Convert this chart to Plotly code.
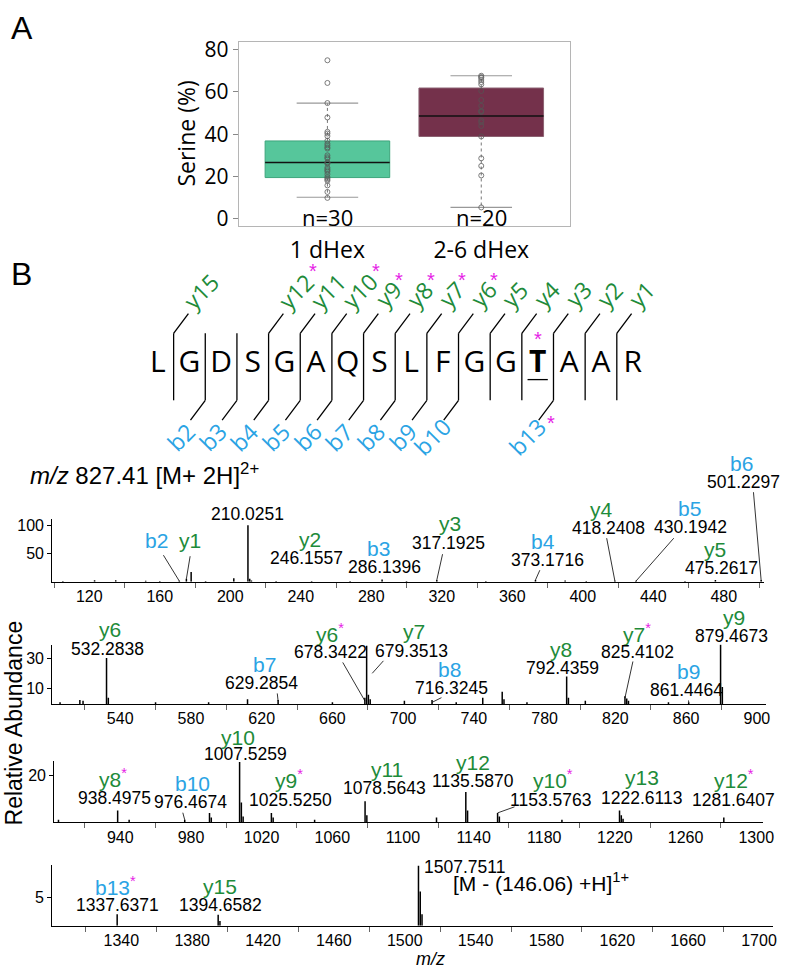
import plotly.graph_objects as go

W, H = 796, 978

# ---------------- Panel A data ----------------
groups = ["1 dHex", "2-6 dHex"]
group_n = ["n=30", "n=20"]
serine_1dhex = [74.9, 64.2, 54.7, 47.9, 41.1, 40.3, 39.1, 36.9, 35.5, 34.7,
                33.8, 33.2, 30.0, 29.1, 28.5, 26.7, 26.5, 26.0, 24.2, 23.5,
                22.9, 22.3, 21.1, 19.8, 19.2, 18.6, 18.0, 15.8, 12.7, 9.9]
serine_26dhex = [67.6, 67.0, 66.6, 65.6, 64.6, 63.5, 60.4, 56.1, 53.4, 51.0,
                 50.8, 50.5, 46.5, 45.6, 43.9, 38.9, 28.6, 25.0, 20.5, 5.4]
box_q1 = [19.5, 38.9]
box_median = [26.6, 48.6]
box_q3 = [36.8, 61.8]
box_lower = [10.2, 5.4]
box_upper = [54.7, 67.6]
serine_ticks = [0, 20, 40, 60, 80]

# ---------------- Panel B: peptide ----------------
peptide = list("LGDSGAQSLFGGTAAR")
glyco_residue = 12          # index of the modified T
b_ions = [2, 3, 4, 5, 6, 7, 8, 9, 10, 13]
y_ions = [15, 12, 11, 10, 9, 8, 7, 6, 5, 4, 3, 2, 1]
b_star = [13]
y_star = [12, 10, 9, 8, 7, 6]

# ---------------- Panel B: spectra ----------------
spec1_mz = [105, 123, 135, 152, 160, 171.1, 175.1, 177.8, 186, 202.0, 210.03, 211.03, 212,
            226, 246.16, 268, 286.14, 300, 317.19, 345, 373.17, 390, 402, 418.24, 430.19,
            458, 475.26, 501.23]
spec1_int = [1, 2.5, 2.5, 1.5, 1, 1.5, 5, 17, 1, 6, 100, 5, 2,
             1, 1, 1, 4, 1, 3, 1, 3, 2, 1, 1.5, 1.5,
             1, 3, 3]
spec2_mz = [506, 517.2, 519, 532.28, 533.29, 560, 590, 612, 629.29, 660, 678.34, 679.35,
            680.35, 681.36, 700.7, 716.32, 730, 745, 756, 757, 770, 792.44, 793.44, 803,
            825.41, 826.41, 827.4, 850, 861.45, 879.47, 880.47]
spec2_int = [1, 2.5, 2, 30, 4, 1, 1, 3, 2.5, 1, 4, 38,
             6, 3, 2, 2.5, 1, 4, 8, 3, 1, 18, 4, 2,
             5, 3.5, 2, 1, 1, 39, 11]
spec3_mz = [905, 938.50, 945, 976.47, 990.5, 991.5, 1007.53, 1008.53, 1009.53, 1025.53,
            1026.53, 1050, 1078.56, 1079.57, 1119, 1135.59, 1136.59, 1153.58, 1154.58,
            1190, 1222.61, 1223.61, 1224.61, 1281.64]
spec3_int = [1, 5, 1, 1, 4, 2, 26, 8.5, 2.5, 4,
             2, 1, 9, 3, 2, 13, 5, 4, 2.5,
             1, 5, 3, 1.5, 2]
spec4_mz = [1337.64, 1394.66, 1395.66, 1507.75, 1508.75, 1509.75]
spec4_int = [2, 1.9, 0.8, 10.5, 6, 2]

spec_xticklabels = [list(range(120, 481, 40)), list(range(540, 901, 40)),
                    list(range(940, 1301, 40)), list(range(1340, 1701, 40))]
spec_yticks = [[50, 100], [10, 30], [20], [5]]

# annotated ions: (panel, ion, starred, m/z text)
spec_labels = [
    (1, "b6", False, "501.2297"), (1, "", False, "210.0251"), (1, "b2", False, ""),
    (1, "y1", False, ""), (1, "y2", False, "246.1557"), (1, "b3", False, "286.1396"),
    (1, "y3", False, "317.1925"), (1, "b4", False, "373.1716"), (1, "y4", False, "418.2408"),
    (1, "b5", False, "430.1942"), (1, "y5", False, "475.2617"),
    (2, "y6", False, "532.2838"), (2, "b7", False, "629.2854"), (2, "y6", True, "678.3422"),
    (2, "y7", False, "679.3513"), (2, "b8", False, "716.3245"), (2, "y8", False, "792.4359"),
    (2, "y7", True, "825.4102"), (2, "b9", False, "861.4464"), (2, "y9", False, "879.4673"),
    (3, "y8", True, "938.4975"), (3, "b10", False, "976.4674"), (3, "y10", False, "1007.5259"),
    (3, "y9", True, "1025.5250"), (3, "y11", False, "1078.5643"), (3, "y12", False, "1135.5870"),
    (3, "y10", True, "1153.5763"), (3, "y13", False, "1222.6113"), (3, "y12", True, "1281.6407"),
    (4, "b13", True, "1337.6371"), (4, "y15", False, "1394.6582"),
]
precursor_text = "<i>m/z</i> 827.41 [M+ 2H]<sup>2+</sup>"
loss_peak_text = "1507.7511"
loss_text = "[M - (146.06) +H]<sup>1+</sup>"

# ---------------- layout / placement (pixels) ----------------
# (ion cx, ion cy, number cx, number cy, leader (sx, sy, tip m/z, tip intensity) or None)
label_layout = [
    (752, 462, 754, 481, (764, 491, 501.23, 2)), (None, None, 251, 513, None),
    (159, 540, None, None, (165, 554, 171.1, 1)), (193, 540, None, None, (193, 555, 175.1, 5)),
    (314, 539, 311, 558, None), (384, 548, 390, 567, None),
    (456, 523, 455, 543, (449, 553, 317.19, 3)), (551, 541, 555, 560, (548, 569, 373.17, 3)),
    (610, 509, 617, 528, (615, 537, 418.24, 1)), (699, 508, 700, 527, (684, 537, 430.19, 1)),
    (725, 549, 732, 568, None),
    (112, 631, 109, 650, None), (268, 666, 265, 685, (281, 694, 629.29, 2)),
    (335, 634, 335, 653, (347, 663, 678.34, 2)), (420, 633, 417, 652, (390, 661, 682.5, 20)),
    (456, 671, 458, 690, (449, 699, 716.32, 1)), (569, 651, 570, 670, None),
    (646, 634, 646, 653, (642, 662, 825.41, 4)), (698, 673, 696, 692, (698, 701, 861.45, 1)),
    (744, 618, 742, 637, None),
    (115, 781, 116, 801, None), (195, 787, 193, 806, (185, 815, 976.47, 1)),
    (241, 740, 249, 757, None), (293, 782, 295, 803, None), (392, 773, 390, 791, None),
    (480, 765, 480, 784, None), (561, 782, 558, 803, (523, 810, 1153.58, 4)),
    (651, 781, 650, 801, None), (744, 782, 744, 803, None),
    (117, 891, 119, 910, None), (223, 891, 224, 910, None),
]

PANELS = [
    dict(x=(53, 775), y=(518, 582), xr=(99, 503), yr=(0, 112)),
    dict(x=(53, 777), y=(646, 706), xr=(501.6, 905.3), yr=(0, 38.7)),
    dict(x=(55, 774), y=(764, 826), xr=(902.6, 1304), yr=(0, 26.4)),
    dict(x=(53, 784), y=(869, 931), xr=(1301, 1708), yr=(0, 10.7)),
]
spectra = [(spec1_mz, spec1_int), (spec2_mz, spec2_int), (spec3_mz, spec3_int), (spec4_mz, spec4_int)]

GREEN = "#1e8b3a"
BLUE = "#2aa3e4"
STAR = "#e61ee6"
BOX_FILL = ["#56c69b", "#74314b"]
BOX_EDGE = ["#3da57c", "#8c6272"]

SANS = "Liberation Sans, Arial, sans-serif"
NARROW = "Liberation Sans, Arial, sans-serif"
HUM = "Open Sans, Noto Sans, sans-serif"
NUM_SIZE = 17.5


def xdom(a, b):
    return [a / W, b / W]


def ydom(top, bottom):
    return [1 - bottom / H, 1 - top / H]


def px(p, mz, val):
    x0, x1 = p["x"]
    r0, r1 = p["xr"]
    top, bot = p["y"]
    return (x0 + (mz - r0) / (r1 - r0) * (x1 - x0),
            bot - (val - p["yr"][0]) / (p["yr"][1] - p["yr"][0]) * (bot - top))


def ptext(cx, cy, text, font, xanchor="center", **kw):
    d = dict(xref="paper", yref="paper", x=cx / W, y=1 - cy / H, text=text, showarrow=False,
             xanchor=xanchor, yanchor="middle", font=font)
    d.update(kw)
    return d


fig = go.Figure()
ann = []

# ---------------- Panel A ----------------
BW = 0.81
fig.add_trace(go.Bar(x=[0, 1], base=box_q1, y=[q3 - q1 for q1, q3 in zip(box_q1, box_q3)],
                     width=BW, marker=dict(color=BOX_FILL, line=dict(color=BOX_EDGE, width=1)),
                     xaxis="x", yaxis="y", hoverinfo="skip"))
for i in range(2):
    fig.add_trace(go.Scatter(x=[i, i, None, i, i], y=[box_q3[i], box_upper[i], None, box_q1[i], box_lower[i]],
                             mode="lines", line=dict(color="#777", width=1, dash="dot"),
                             xaxis="x", yaxis="y", hoverinfo="skip"))
    fig.add_trace(go.Scatter(x=[i - 0.2, i + 0.2, None, i - 0.2, i + 0.2],
                             y=[box_upper[i], box_upper[i], None, box_lower[i], box_lower[i]],
                             mode="lines", line=dict(color="#999", width=1.2),
                             xaxis="x", yaxis="y", hoverinfo="skip"))
    fig.add_trace(go.Scatter(x=[i - BW / 2, i + BW / 2], y=[box_median[i], box_median[i]],
                             mode="lines", line=dict(color="#111", width=1.6),
                             xaxis="x", yaxis="y", hoverinfo="skip"))
for i, vals in enumerate([serine_1dhex, serine_26dhex]):
    fig.add_trace(go.Scatter(x=[i] * len(vals), y=vals, mode="markers",
                             marker=dict(symbol="circle-open", size=5, color="#555",
                                         line=dict(width=0.9, color="#555")),
                             opacity=0.85, xaxis="x", yaxis="y", hoverinfo="skip"))
    ann.append(dict(xref="x", yref="y", x=i, y=0.7, text=group_n[i], showarrow=False,
                    xanchor="center", yanchor="middle",
                    font=dict(family=HUM, size=22, color="black")))

ann.append(ptext(189, 127, "Serine (%)", dict(family=HUM, size=23, color="black"), textangle=-90))
ann.append(ptext(22, 20, "A", dict(family=SANS, size=32, color="black")))
ann.append(ptext(22, 270, "B", dict(family=SANS, size=32, color="black")))

# ---------------- Peptide diagram ----------------
P0, PD = 160.0, 32.1        # pixel position of residue 0 and spacing
letters = ["<b>%s</b>" % a if i == glyco_residue else a for i, a in enumerate(peptide)]
fig.add_trace(go.Scatter(x=list(range(len(peptide))), y=[362] * len(peptide), mode="text",
                         text=letters, textposition="middle center",
                         textfont=dict(family=HUM, size=30, color="black"),
                         xaxis="x6", yaxis="y6", hoverinfo="skip", cliponaxis=False))
lx, ly = [], []
DX = 15 / PD
for k in range(1, len(peptide)):
    xs = k - 0.5
    has_b = k in b_ions
    has_y = (len(peptide) - k) in y_ions
    lx += [xs, xs, None]
    ly += [330, 398, None]
    if has_y:
        lx += [xs, xs + DX, None]
        ly += [330, 310, None]
    if has_b:
        lx += [xs, xs - DX, None]
        ly += [398, 418, None]
lx += [glyco_residue - 0.32, glyco_residue + 0.32, None]
ly += [377, 377, None]
fig.add_trace(go.Scatter(x=lx, y=ly, mode="lines", line=dict(color="black", width=1.3),
                         xaxis="x6", yaxis="y6", hoverinfo="skip"))
ann.append(dict(xref="x6", yref="y6", x=glyco_residue, y=336, text="*", showarrow=False,
                xanchor="center", yanchor="middle", font=dict(family=SANS, size=20, color=STAR)))
for n in y_ions:
    k = len(peptide) - n
    name = "y%d" % n
    L = len(name)
    cx = k - 0.5 + (15 + 4 + 3 * L) / PD
    cy = 310 - 14 - 3 * L
    ann.append(dict(xref="x6", yref="y6", x=cx, y=cy, text=name, textangle=-45, showarrow=False,
                    xanchor="center", yanchor="middle", font=dict(family=HUM, size=23, color=GREEN)))
    if n in y_star:
        ann.append(dict(xref="x6", yref="y6", x=cx + (6 * L - 1) / PD, y=cy - (6 * L + 2), text="*",
                        showarrow=False, xanchor="center", yanchor="middle",
                        font=dict(family=SANS, size=20, color=STAR)))
for k in b_ions:
    name = "b%d" % k
    L = len(name)
    cx = k - 0.5 - (15 + 6 + 2 * L) / PD
    cy = 418 + 17
    ann.append(dict(xref="x6", yref="y6", x=cx, y=cy, text=name, textangle=-45, showarrow=False,
                    xanchor="center", yanchor="middle", font=dict(family=HUM, size=23, color=BLUE)))
    if k in b_star:
        ann.append(dict(xref="x6", yref="y6", x=cx + (7 * L + 3) / PD, y=cy - 14, text="*",
                        showarrow=False, xanchor="center", yanchor="middle",
                        font=dict(family=SANS, size=20, color=STAR)))

# ---------------- Spectra ----------------
ann.append(ptext(28, 473, precursor_text, dict(family=SANS, size=24, color="black"), xanchor="left"))

for pi, (p, (mzs, ints)) in enumerate(zip(PANELS, spectra)):
    ax_id = pi + 2
    xs, ys = [], []
    for m, v in zip(mzs, ints):
        xs += [m, m, None]
        ys += [0, v, None]
    fig.add_trace(go.Scatter(x=xs, y=ys, mode="lines", line=dict(color="black", width=1.5),
                             xaxis="x%d" % ax_id, yaxis="y%d" % ax_id, hoverinfo="skip"))

for (panel, ion, star, num), (icx, icy, ncx, ncy, lead) in zip(spec_labels, label_layout):
    p = PANELS[panel - 1]
    if ion:
        col = GREEN if ion[0] == "y" else BLUE
        t = ion
        if star:
            t += "<sup><span style='color:%s'>*</span></sup>" % STAR
        ann.append(ptext(icx, icy, t, dict(family=SANS, size=21, color=col)))
    if num:
        ann.append(ptext(ncx, ncy, num, dict(family=NARROW, size=NUM_SIZE, color="black")))
    if lead:
        sx, sy, tm, tv = lead
        hx, hy = px(p, tm, tv)
        ann.append(dict(xref="x%d" % (panel + 1), yref="y%d" % (panel + 1), x=tm, y=tv,
                        ax=sx - hx, ay=sy - hy, text="", showarrow=True, arrowhead=0,
                        arrowwidth=0.8, arrowcolor="black", standoff=0, startstandoff=0))

ann.append(ptext(428, 871, loss_peak_text, dict(family=NARROW, size=NUM_SIZE, color="black"), xanchor="left"))
ann.append(ptext(457, 887, loss_text, dict(family=SANS, size=21, color="black"), xanchor="left"))
ann.append(ptext(14, 725, "Relative Abundance", dict(family=SANS, size=23, color="black"), textangle=-90))
ann.append(ptext(437, 965, "<i>m/z</i>", dict(family=SANS, size=18, color="black")))

layout = dict(
    width=W, height=H, margin=dict(l=0, r=0, t=0, b=0),
    paper_bgcolor="white", plot_bgcolor="rgba(0,0,0,0)", showlegend=False, barmode="overlay",
    annotations=ann,
    xaxis=dict(domain=xdom(242, 578), range=[-0.577, 1.577], tickvals=[0, 1], ticktext=groups,
               showline=True, mirror=True, linecolor="#b5b5b5", linewidth=1, ticks="",
               tickfont=dict(family=HUM, size=23, color="black"), showgrid=False, zeroline=False,
               anchor="y", ticklabelstandoff=4),
    yaxis=dict(domain=ydom(35, 221), range=[-3.3, 83.3], tickvals=serine_ticks,
               ticks="outside", ticklen=5, tickcolor="#888", showline=True, mirror=True,
               linecolor="#b5b5b5", linewidth=1, tickfont=dict(family=HUM, size=21, color="black"),
               showgrid=False, zeroline=False, anchor="x"),
    xaxis6=dict(domain=[0, 1], range=[(0 - P0) / PD, (W - P0) / PD], visible=False, anchor="y6"),
    yaxis6=dict(domain=[0, 1], range=[H, 0], visible=False, anchor="x6"),
)
for pi, p in enumerate(PANELS):
    n = pi + 2
    labs = spec_xticklabels[pi]
    minor = [v - 20 for v in labs] + [labs[-1] + 20]
    minor = [v for v in minor if p["xr"][0] <= v <= p["xr"][1]]
    layout["xaxis%d" % n] = dict(
        domain=xdom(*p["x"]), range=list(p["xr"]), tickvals=labs, ticktext=[str(v) for v in labs],
        ticks="", showline=True, linecolor="black", linewidth=1.3, showgrid=False, zeroline=False,
        tickfont=dict(family=NARROW, size=16, color="black"), anchor="y%d" % n,
        minor=dict(tickvals=minor, ticks="outside", ticklen=5, tickcolor="#666", tickwidth=1,
                   showgrid=False))
    layout["yaxis%d" % n] = dict(
        domain=ydom(*p["y"]), range=list(p["yr"]), tickvals=spec_yticks[pi], ticks="outside",
        ticklen=4, tickcolor="black", showline=True, linecolor="black", linewidth=1.2,
        showgrid=False, zeroline=False, tickfont=dict(family=NARROW, size=16, color="black"),
        anchor="x%d" % n)

fig.update_layout(**layout)
fig.write_html("out.html", config={"displayModeBar": False},
               post_script="document.body.style.margin='0';")
